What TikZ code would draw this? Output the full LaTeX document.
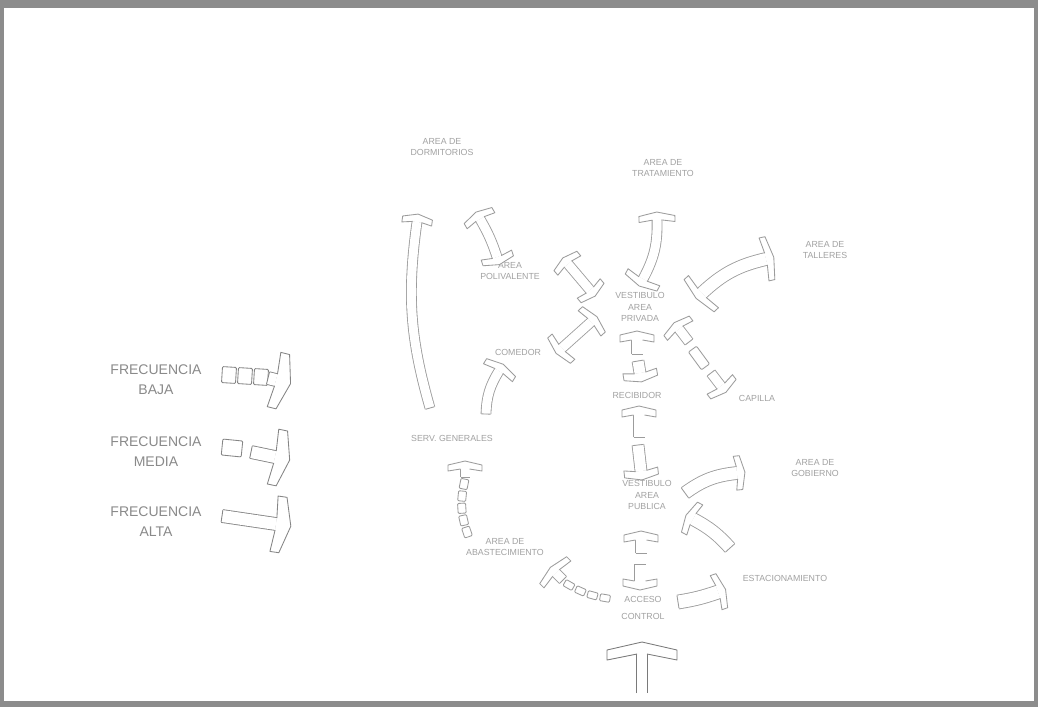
\documentclass[tikz,border=0pt]{standalone}
\usepackage{fontspec}
\setmainfont{Liberation Sans}
\usetikzlibrary{decorations.markings,calc}
\definecolor{cFrame}{HTML}{8C8C8C}
\definecolor{cArr}{HTML}{9C9C9C}
\definecolor{cBig}{HTML}{7A7A7A}
\definecolor{cLeg}{HTML}{858585}
\definecolor{cLab}{HTML}{A2A2A2}
\definecolor{cLegT}{HTML}{8A8A8A}
\def\Tcol{cArr}
\def\Tsw{4.5}\def\Tbh{16}\def\Tbt{6}\def\Tbc{2}\def\Tbp{2}
\def\Tbl{5}\def\Tbw{4}
\def\Thead{%
  \fill[white] (0,\Tsw) -- (-\Tbc,\Tbh) -- (-\Tbc+\Tbt,\Tbh) -- (\Tbt+\Tbp,0) -- (-\Tbc+\Tbt,-\Tbh) -- (-\Tbc,-\Tbh) -- (0,-\Tsw) -- cycle;
  \draw[tline] (0,\Tsw) -- (-\Tbc,\Tbh) -- (-\Tbc+\Tbt,\Tbh) -- (\Tbt+\Tbp,0) -- (-\Tbc+\Tbt,-\Tbh) -- (-\Tbc,-\Tbh) -- (0,-\Tsw);}
\def\Tclosed{\draw[tline] (0,-\Tsw) -- (0,\Tsw);}
\def\Tdbl{\begin{scope}[xscale=-1]\Thead\end{scope}}
\def\Ttail{\Tclosed}
\def\Tbox{\draw[tline,fill=white,rounded corners=1pt] (-\Tbl,-\Tbw) -- (\Tbl,-\Tbw) -- (\Tbl,\Tbw) -- (-\Tbl,\Tbw) -- cycle;}
\tikzset{
  geom/.style n args={5}{/utils/exec={\def\Tsw{#1}\def\Tbh{#2}\def\Tbt{#3}\def\Tbc{#4}\def\Tbp{#5}}},
  tcolor/.code={\def\Tcol{#1}},
  barhalf/.code={\def\Tbh{#1}},
  shafthalf/.code={\def\Tsw{#1}},
  boxsz/.code 2 args={\def\Tbl{#1}\def\Tbw{#2}},
  dbl/.code={\def\Ttail{\Tdbl}},
  opentail/.code={\def\Ttail{}},
  legarr/.style={geom={6}{28}{9}{2}{6},tcolor=cLeg},
  bigarr/.style={geom={5}{35}{10}{6}{2},tcolor=cBig,opentail},
  midarr/.style={geom={5.5}{17}{7}{2}{2}},
  smarr/.style={geom={4.5}{16}{6}{2}{2}},
  tline/.style={draw=\Tcol,line width=0.85pt,line join=round},
  tshaft/.style={draw=\Tcol,line width=0.85pt,double=white},
  lbl/.style={text=cLab,font=\fontsize{8.8}{11.5}\selectfont,align=center,inner sep=0pt},
  legl/.style={text=cLegT,font=\fontsize{14}{20}\selectfont,align=center,inner sep=0pt},
}
\newcommand\Tarr[4][]{%
  \draw[smarr,#1,tshaft,double distance={2*\Tsw pt}] (#2) to[#3] (#4);
  \path[smarr,#1,postaction={decorate,decoration={markings,
     mark=at position 0 with {\Ttail},
     mark=at position 0.9999 with {\Thead}}}] (#2) to[#3] (#4);}
\newcommand\Tboxes[5][]{%
  \path[smarr,#1,postaction={decorate,decoration={markings,
     mark=between positions 0 and 1 step #5 with {\Tbox}}}] (#2) to[#3] (#4);}
\begin{document}
\begin{tikzpicture}[x=1pt,y=-1pt]
\fill[cFrame] (0,0) rectangle (1038,707);
\fill[white] (4,8) rectangle (1034,701);
\useasboundingbox (0,0) rectangle (1038,707);
% labels
\node[lbl] (dorm) at (442,147) {AREA DE\\DORMITORIOS};
\node[lbl] (trat) at (663,168) {AREA DE\\TRATAMIENTO};
\node[lbl] (tall) at (825,250) {AREA DE\\TALLERES};
\node[lbl,font=\fontsize{8.8}{10.5}\selectfont] (poli) at (510,271) {AREA\\POLIVALENTE};
\node[lbl] (vpriv) at (640,307) {VESTIBULO\\AREA\\PRIVADA};
\node[lbl] (come) at (518,352) {COMEDOR};
\node[lbl] (reci) at (637,395) {RECIBIDOR};
\node[lbl] (capi) at (757,398) {CAPILLA};
\node[lbl] (serv) at (452,438) {SERV. GENERALES};
\node[lbl] (vpub) at (647,495) {VESTIBULO\\AREA\\PUBLICA};
\node[lbl] (gob) at (815,468) {AREA DE\\GOBIERNO};
\node[lbl] (abas) at (505,547) {AREA DE\\ABASTECIMIENTO};
\node[lbl] (esta) at (785,578) {ESTACIONAMIENTO};
\node[lbl] (acce) at (643,608) {ACCESO\\[5pt]CONTROL};
\node[legl] (lbaja) at (156,380) {FRECUENCIA\\BAJA};
\node[legl] (lmedia) at (156,452) {FRECUENCIA\\MEDIA};
\node[legl] (lalta) at (156,522) {FRECUENCIA\\ALTA};
% coordinates
\coordinate (b0s) at (642,693); \coordinate (b0e) at (642,654);
\coordinate (a1s) at (641,553); \coordinate (a1e) at (641,540);
\coordinate (a2s) at (640,564); \coordinate (a2e) at (640,581);
\coordinate (a3s) at (638,445); \coordinate (a3e) at (641,471);
\coordinate (a4s) at (639,437); \coordinate (a4e) at (639,415);
\coordinate (a5s) at (638,361); \coordinate (a5e) at (640,373);
\coordinate (a6s) at (637,354); \coordinate (a6e) at (637,340);
\coordinate (a7s) at (643,279); \coordinate (a7e) at (657,220);
\coordinate (a8s) at (497,257); \coordinate (a8e) at (480,219);
\coordinate (a9s) at (568,264); \coordinate (a9e) at (590,290);
\coordinate (a10s) at (562,348); \coordinate (a10e) at (591,322);
\coordinate (a11s) at (702,293); \coordinate (a11e) at (766,259);
\coordinate (a12s) at (689,342); \coordinate (a12e) at (679,329);
\coordinate (a12b) at (699,358); \coordinate (a12c) at (710,373);
\coordinate (a12t) at (711,373); \coordinate (a12u) at (721,386);
\coordinate (a13s) at (486,414); \coordinate (a13e) at (499,371);
\coordinate (a14s) at (430,408); \coordinate (a14e) at (417,222);
\coordinate (a15s) at (467,532); \coordinate (a15m) at (464,484);
\coordinate (a15t) at (465,477); \coordinate (a15e) at (465,469);
\coordinate (a16s) at (605,598); \coordinate (a16m) at (569,585);
\coordinate (a16t) at (563,580); \coordinate (a16e) at (556,573);
\coordinate (a17s) at (678,602); \coordinate (a17e) at (718,592);
\coordinate (a18s) at (685,493); \coordinate (a18e) at (737,473);
\coordinate (a19s) at (730,548); \coordinate (a19e) at (693,519);
\coordinate (l1s) at (229,375); \coordinate (l1m) at (261,377);
\coordinate (l1t) at (268,378); \coordinate (l1e) at (276,380);
\coordinate (l2b) at (232,448); \coordinate (l2c) at (242,449);
\coordinate (l2t) at (251,452); \coordinate (l2e) at (275,457);
\coordinate (l3s) at (222,516); \coordinate (l3e) at (276,524);
% arrows: central column
\Tarr[bigarr]{b0s}{}{b0e}
\Tarr[midarr]{a1s}{}{a1e}
\Tarr[midarr]{a2s}{}{a2e}
\Tarr[midarr]{a3s}{}{a3e}
\Tarr[midarr]{a4s}{}{a4e}
\Tarr[midarr]{a5s}{}{a5e}
\Tarr[midarr]{a6s}{}{a6e}
% around vestibulo privado
\Tarr[dbl,barhalf=18]{a7s}{bend right=15}{a7e}
\Tarr[dbl,barhalf=16]{a8s}{bend right=6}{a8e}
\Tarr[dbl,barhalf=15]{a9s}{}{a9e}
\Tarr[dbl,barhalf=17]{a10s}{}{a10e}
\Tarr[dbl,barhalf=22,shafthalf=6]{a11s}{bend left=15}{a11e}
\Tarr[barhalf=16]{a12s}{}{a12e}
\Tboxes[boxsz={11}{5}]{a12b}{}{a12c}{2}
\Tarr[barhalf=16]{a12t}{}{a12u}
% left side
\Tarr[barhalf=17]{a13s}{bend left=15}{a13e}
\Tarr[barhalf=15]{a14s}{bend left=12}{a14e}
\Tboxes[boxsz={5}{4}]{a15s}{bend left=15}{a15m}{0.2499}
\Tarr[barhalf=17]{a15t}{}{a15e}
\Tboxes[boxsz={5}{3.5}]{a16s}{bend left=10}{a16m}{0.3333}
\Tarr[barhalf=19]{a16t}{}{a16e}
% right side lower
\Tarr[barhalf=18,shafthalf=6.5]{a17s}{bend right=5}{a17e}
\Tarr[barhalf=17,shafthalf=6]{a18s}{bend left=15}{a18e}
\Tarr[barhalf=17,shafthalf=6]{a19s}{bend right=10}{a19e}
% legend
\Tboxes[legarr,boxsz={7}{8}]{l1s}{}{l1m}{0.4999}
\Tarr[legarr]{l1t}{}{l1e}
\Tboxes[legarr,boxsz={10}{8}]{l2b}{}{l2c}{2}
\Tarr[legarr]{l2t}{}{l2e}
\Tarr[legarr]{l3s}{}{l3e}
\end{tikzpicture}
\end{document}
